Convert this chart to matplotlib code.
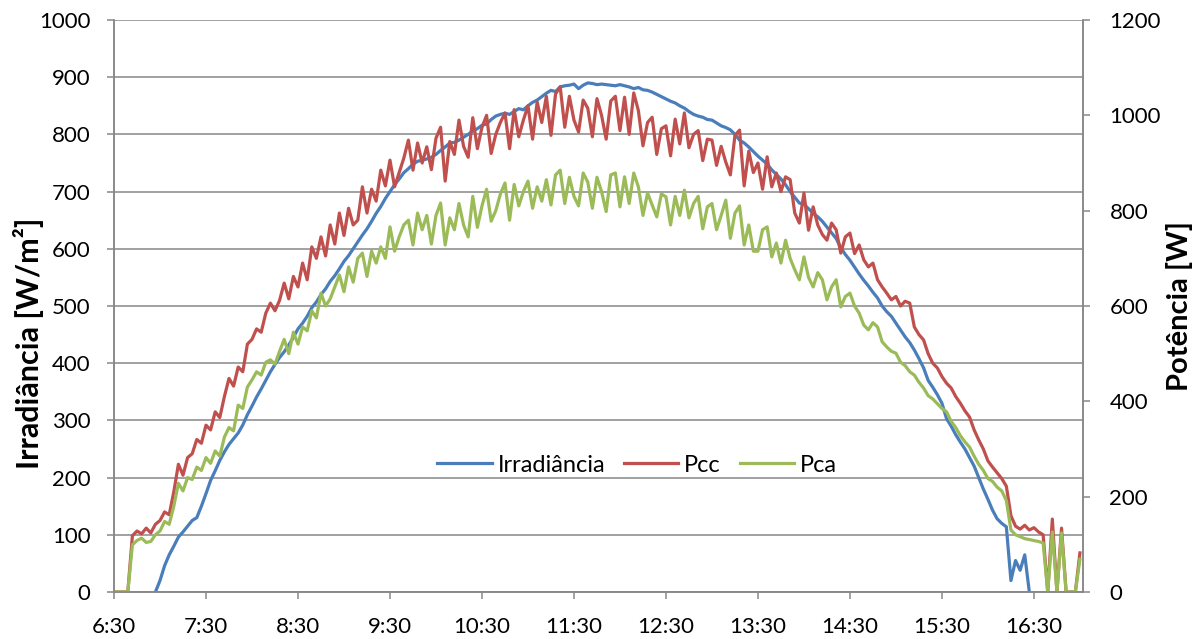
#!/usr/bin/env python
# coding: utf-8
#  Irradiance and DC/AC power over one day
#  ─────────────────────────────────────

import numpy as np
import matplotlib
matplotlib.use('Agg')
from matplotlib import pyplot as plt

plt.rcParams['font.family'] = ['Lato', 'DejaVu Sans']

# ──────────────────────────────────────
# Data (one sample every 3 min, starting 6:30)
step_min = 3

tick_minutes = [0, 60, 120, 180, 240, 300, 360, 420, 480, 540, 600]
tick_labels = ['6:30', '7:30', '8:30', '9:30', '10:30', '11:30',
               '12:30', '13:30', '14:30', '15:30', '16:30']

# irradiance [W/m2]  (None = no reading)
irradiancia = [
    None, None, None, None, None, None, None, None, None, 0,
    20, 46, 65, 80, 96, 105, 115, 125, 130, 150,
    172, 195, 212, 230, 245, 258, 268, 278, 292, 310,
    325, 341, 355, 370, 385, 398, 410, 420, 432, 445,
    460, 470, 482, 497, 507, 520, 530, 543, 553, 565,
    578, 588, 600, 612, 624, 635, 648, 662, 674, 688,
    700, 712, 722, 733, 740, 748, 753, 755, 757, 760,
    765, 772, 778, 785, 786, 790, 795, 800, 806, 810,
    816, 818, 826, 832, 835, 837, 835, 840, 845, 843,
    850, 856, 860, 866, 872, 877, 875, 883, 885, 886,
    888, 880, 886, 890, 889, 887, 888, 887, 886, 885,
    887, 885, 883, 880, 882, 878, 877, 874, 870, 866,
    862, 858, 855, 850, 846, 840, 835, 832, 830, 826,
    825, 820, 815, 812, 808, 800, 790, 785, 778, 770,
    762, 755, 748, 738, 730, 722, 712, 700, 690, 680,
    678, 670, 662, 656, 648, 638, 628, 618, 602, 590,
    580, 568, 556, 545, 535, 524, 514, 500, 490, 482,
    470, 458, 446, 436, 423, 408, 392, 370, 358, 345,
    330, 303, 290, 275, 262, 250, 235, 220, 200, 180,
    162, 143, 128, 120, 114, 20, 55, 38, 65, 0,
    None, None, None, None, None, None, None, None, None, None,
    None,
]

# DC power [W]
pcc = [
    0, 0, 0, 0, 118, 128, 122, 134, 124, 142,
    150, 168, 162, 210, 268, 245, 282, 290, 320, 312,
    350, 340, 378, 366, 410, 448, 432, 472, 462, 520,
    530, 552, 545, 585, 606, 590, 612, 648, 615, 662,
    640, 690, 655, 724, 700, 745, 705, 770, 730, 795,
    748, 805, 770, 780, 850, 795, 845, 820, 885, 852,
    906, 850, 880, 910, 948, 885, 942, 900, 934, 886,
    952, 975, 862, 945, 918, 990, 935, 912, 995, 930,
    975, 1000, 920, 960, 985, 1005, 930, 1012, 955, 990,
    1020, 950, 1028, 985, 1040, 958, 1045, 1060, 975, 1040,
    990, 965, 1032, 1015, 955, 1035, 1000, 950, 1030, 1040,
    968, 1038, 960, 1047, 1010, 936, 985, 996, 918, 972,
    978, 915, 992, 940, 1005, 932, 960, 968, 905, 950,
    948, 895, 935, 902, 875, 958, 969, 852, 925, 880,
    900, 845, 913, 850, 879, 840, 871, 865, 795, 774,
    837, 759, 808, 770, 750, 738, 774, 760, 711, 745,
    753, 710, 728, 697, 682, 690, 655, 640, 627, 613,
    620, 600, 610, 606, 556, 540, 529, 500, 480, 470,
    452, 438, 428, 410, 396, 380, 367, 340, 319, 300,
    275, 262, 250, 238, 222, 160, 138, 132, 140, 130,
    135, 126, 120, 0, 153, 0, 134, 0, 0, 0,
    82,
]

# AC power [W]
pca = [
    0, 0, 0, 0, 99, 108, 113, 104, 106, 120,
    128, 148, 142, 180, 228, 212, 240, 236, 262, 255,
    282, 270, 296, 285, 325, 345, 338, 392, 385, 430,
    445, 462, 455, 482, 487, 478, 505, 530, 500, 545,
    520, 556, 548, 590, 575, 627, 600, 615, 640, 665,
    630, 682, 650, 700, 711, 662, 715, 690, 724, 700,
    766, 715, 745, 770, 780, 728, 795, 760, 790, 730,
    790, 816, 728, 785, 760, 815, 770, 745, 830, 765,
    810, 845, 778, 800, 835, 858, 780, 855, 810, 840,
    862, 805, 850, 820, 865, 812, 875, 885, 815, 870,
    830, 810, 879, 860, 805, 870, 840, 798, 875, 879,
    808, 871, 815, 879, 850, 790, 837, 812, 787, 835,
    829, 770, 830, 790, 843, 785, 815, 830, 762, 808,
    815, 760, 790, 822, 742, 795, 810, 728, 770, 715,
    715, 760, 766, 703, 732, 690, 738, 700, 676, 655,
    703, 660, 640, 670, 655, 613, 640, 655, 598, 620,
    627, 600, 585, 560, 550, 565, 556, 525, 514, 505,
    501, 482, 475, 462, 455, 440, 428, 412, 405, 395,
    385, 378, 358, 345, 328, 315, 304, 285, 268, 255,
    238, 232, 220, 212, 192, 130, 120, 116, 112, 110,
    108, 106, 103, 0, 126, 0, 124, 0, 0, 0,
    69,
]

# ──────────────────────────────────────
irr = np.array([np.nan if v is None else v for v in irradiancia], dtype=float)
t = np.arange(len(pcc)) * step_min

c_irr, c_pcc, c_pca = '#4A7EBB', '#C0504D', '#9BBB59'
grid_c = '#878787'

W, H = 1194, 639
fig = plt.figure(figsize=(W / 100, H / 100), dpi=100)
ax = fig.add_axes([114 / W, 47 / H, (1083 - 114) / W, 572 / H])
ax2 = ax.twinx()

l1, = ax.plot(t, irr, color=c_irr, lw=2.3, label='Irradiância', solid_joinstyle='round')
l2, = ax2.plot(t, pcc, color=c_pcc, lw=2.3, label='Pcc', solid_joinstyle='round')
l3, = ax2.plot(t, pca, color=c_pca, lw=2.3, label='Pca', solid_joinstyle='round')

ax.set_xlim(0, 632)
ax.set_ylim(0, 1000)
ax2.set_ylim(0, 1200)
ax.set_yticks(np.arange(0, 1001, 100))
ax2.set_yticks(np.arange(0, 1201, 200))
ax.set_xticks(tick_minutes)
ax.set_xticklabels(tick_labels)

ax.grid(axis='y', color=grid_c, lw=1.1)
ax.set_axisbelow(True)

for a in (ax, ax2):
    a.spines['top'].set_visible(False)
    for s in ('left', 'right', 'bottom'):
        a.spines[s].set_color(grid_c)
        a.spines[s].set_linewidth(1.1)
    a.tick_params(colors=grid_c, labelcolor='black', labelsize=16, length=5, width=1.1)
ax.tick_params(axis='y', pad=12)
ax.tick_params(axis='x', pad=13)
ax2.tick_params(axis='y', pad=14)

ax.set_ylabel('Irradiância [W/m²]', fontsize=22, fontweight='bold')
ax.yaxis.set_label_coords(-0.072, 0.435)
ax2.set_ylabel('Potência [W]', fontsize=21, fontweight='bold', rotation=90, labelpad=4)

ax2.legend(handles=[l1, l2, l3], loc='center', bbox_to_anchor=(0.540, 0.222),
           ncol=3, frameon=False, fontsize=17, handlelength=2.3,
           handletextpad=0.25, columnspacing=0.8)

fig.savefig('out.png', dpi=100)
